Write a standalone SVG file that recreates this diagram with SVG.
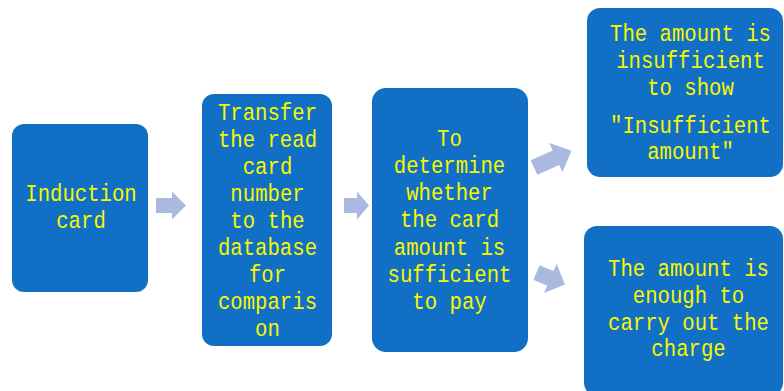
<svg xmlns="http://www.w3.org/2000/svg" width="784" height="391" viewBox="0 0 784 391">
<style>
.box{fill:#1170C5;}
.t{font-family:"Liberation Mono","DejaVu Sans Mono",monospace;font-size:23.5px;fill:#F7F700;text-anchor:middle;}
.arr{fill:#A9B9E0;}
</style>
<rect width="784" height="391" fill="#FFFFFF"/>
<g id="connectors">
<path class="arr" d="M156,198 H172 V191.5 L186,205.5 L172,219.5 V213 H156 Z"/>
<path class="arr" d="M344,198 H357 V191.5 L369,205.5 L357,219.5 V213 H344 Z"/>
<path class="arr" transform="translate(534,167.5) rotate(-24)" d="M0,-8 H24 V-16 L41,0 L24,16 V8 H0 Z"/>
<path class="arr" transform="translate(536.5,272.5) rotate(23)" d="M0,-8 H15 V-16 L31,0 L15,16 V8 H0 Z"/>
</g>
<g id="node1">
<rect class="box" x="12" y="124" width="136" height="168" rx="12"/>
<g transform="translate(81 0) scale(0.878 1)">
<text class="t" x="0" y="201.5">Induction</text>
<text class="t" x="0" y="228.5">card</text>
</g>
</g>
<g id="node2">
<rect class="box" x="202" y="94" width="130" height="252" rx="12"/>
<g transform="translate(267.5 0) scale(0.878 1)">
<text class="t" x="0" y="120">Transfer</text>
<text class="t" x="0" y="147">the read</text>
<text class="t" x="0" y="174">card</text>
<text class="t" x="0" y="201">number</text>
<text class="t" x="0" y="228">to the</text>
<text class="t" x="0" y="255">database</text>
<text class="t" x="0" y="282">for</text>
<text class="t" x="0" y="309.5">comparis</text>
<text class="t" x="0" y="336.5">on</text>
</g>
</g>
<g id="node3">
<rect class="box" x="372" y="88" width="156" height="264" rx="14"/>
<g transform="translate(449.5 0) scale(0.878 1)">
<text class="t" x="0" y="146.5">To</text>
<text class="t" x="0" y="173.5">determine</text>
<text class="t" x="0" y="200.5">whether</text>
<text class="t" x="0" y="227.5">the card</text>
<text class="t" x="0" y="255">amount is</text>
<text class="t" x="0" y="282.5">sufficient</text>
<text class="t" x="0" y="309.5">to pay</text>
</g>
</g>
<g id="node4">
<rect class="box" x="587" y="8" width="196" height="169" rx="13"/>
<g transform="translate(690.5 0) scale(0.878 1)">
<text class="t" x="0" y="41.5">The amount is</text>
<text class="t" x="0" y="68.5">insufficient</text>
<text class="t" x="0" y="95">to show</text>
<text class="t" x="0" y="133.5">"Insufficient</text>
<text class="t" x="0" y="159.5">amount"</text>
</g>
</g>
<g id="node5">
<rect class="box" x="584" y="226" width="199" height="170" rx="13"/>
<g transform="translate(688.5 0) scale(0.878 1)">
<text class="t" x="0" y="276.5">The amount is</text>
<text class="t" x="0" y="303.5">enough to</text>
<text class="t" x="0" y="330">carry out the</text>
<text class="t" x="0" y="356.5">charge</text>
</g>
</g>
</svg>
